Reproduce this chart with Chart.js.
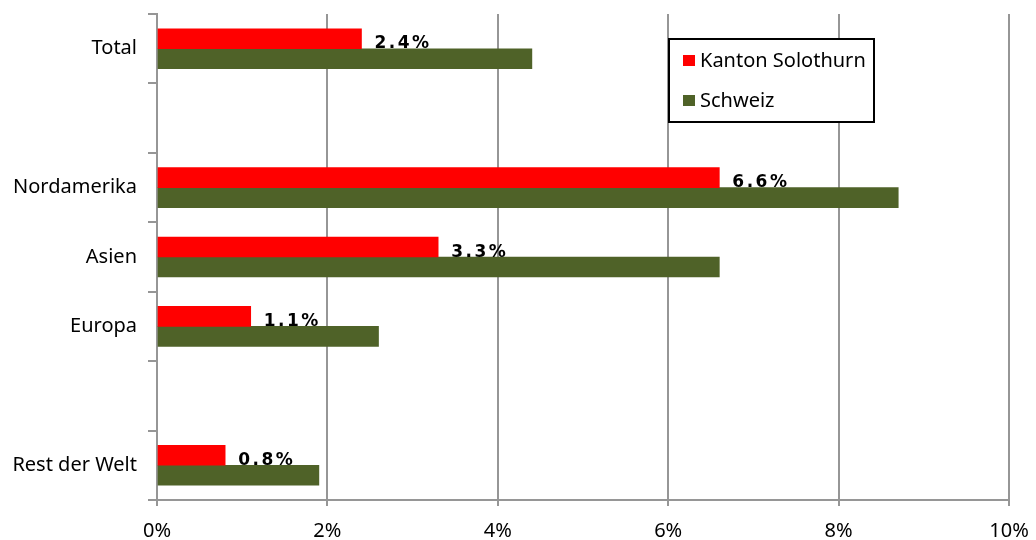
<!DOCTYPE html>
<html>
<head>
<meta charset="utf-8">
<script src="https://cdn.jsdelivr.net/npm/chart.js@4"></script>
<style>
    body { margin: 0; background: #fff; }
    #wrap { width: 1036px; height: 540px; }
</style>
</head>
<body>
<div id="wrap"><canvas id="chart" width="1036" height="540"></canvas></div>
<script>
// data (percent)
const categories = ['Total', '', 'Nordamerika', 'Asien', 'Europa', '', 'Rest der Welt'];
const solothurn = [2.4, null, 6.6, 3.3, 1.1, null, 0.8];
const schweiz = [4.4, null, 8.7, 6.6, 2.6, null, 1.9];
const xTicks = [0, 2, 4, 6, 8, 10];
const seriesNames = ['Kanton Solothurn', 'Schweiz'];

const RED = '#FF0000';
const GREEN = '#4F6228';
const GRID = '#969696';
const FONT = '"Noto Sans", "DejaVu Sans", sans-serif';
const LABEL_FONT = '"DejaVu Sans", Verdana, sans-serif';

// value labels next to the red bars
const valueLabels = {
    id: 'valueLabels',
    afterDatasetsDraw(chart) {
        const ctx = chart.ctx;
        const meta = chart.getDatasetMeta(0);
        ctx.save();
        ctx.font = 'bold 17px ' + LABEL_FONT;
        ctx.fillStyle = '#000';
        ctx.textAlign = 'left';
        ctx.textBaseline = 'alphabetic';
        ctx.letterSpacing = '2.5px';
        meta.data.forEach((bar, i) => {
            const v = solothurn[i];
            if (v === null) return;
            ctx.fillText(v.toFixed(1) + '%', bar.x + 13, bar.y + bar.height / 2 - 0.5);
        });
        ctx.restore();
    },
};

// boxed legend sitting inside the plot
const boxLegend = {
    id: 'boxLegend',
    afterDraw(chart) {
        const ctx = chart.ctx;
        const x = 669, y = 39, w = 205, h = 83;
        const colors = [RED, GREEN];
        ctx.save();
        ctx.fillStyle = '#fff';
        ctx.fillRect(x, y, w, h);
        ctx.strokeStyle = '#000';
        ctx.lineWidth = 2;
        ctx.strokeRect(x, y, w, h);
        ctx.font = '20px ' + FONT;
        ctx.textBaseline = 'middle';
        seriesNames.forEach((name, i) => {
            const cy = y + 22 + i * 40;
            ctx.fillStyle = colors[i];
            ctx.fillRect(x + 14, cy - 6, 12, 11);
            ctx.fillStyle = '#000';
            ctx.fillText(name, x + 31, cy);
        });
        ctx.restore();
    },
};

const ctx = document.getElementById('chart').getContext('2d');
new Chart(ctx, {
    type: 'bar',
    data: {
        labels: categories,
        datasets: [
            {
                label: seriesNames[0],
                backgroundColor: RED,
                data: solothurn,
                barThickness: 20,
            },
            {
                label: seriesNames[1],
                backgroundColor: GREEN,
                data: schweiz,
                barThickness: 20,
            },
        ],
    },
    options: {
        indexAxis: 'y',
        responsive: false,
        animation: false,
        layout: {
            padding: { top: 14, right: 27, left: 0, bottom: 0 },
        },
        scales: {
            x: {
                min: 0,
                max: 10,
                afterBuildTicks: (scale) => {
                    scale.ticks = xTicks.map((v) => ({ value: v }));
                },
                afterFit: (scale) => {
                    scale.height = 40;
                    scale.paddingLeft = 0;
                    scale.paddingRight = 0;
                },
                ticks: {
                    color: '#000',
                    font: { family: FONT, size: 20 },
                    padding: 13,
                    maxRotation: 0,
                    callback: (v) => v + '%',
                },
                grid: {
                    color: GRID,
                    lineWidth: 2,
                    tickLength: 6,
                },
                border: { color: GRID, width: 2 },
            },
            y: {
                afterFit: (scale) => {
                    scale.width = 157;
                    scale.paddingTop = 0;
                    scale.paddingBottom = 0;
                },
                ticks: {
                    color: '#000',
                    font: { family: FONT, size: 20 },
                    padding: 11,
                },
                grid: {
                    offset: true,
                    drawOnChartArea: false,
                    color: GRID,
                    lineWidth: 2,
                    tickLength: 9,
                },
                border: { color: GRID, width: 2 },
            },
        },
        plugins: {
            legend: { display: false },
            tooltip: { enabled: false },
        },
    },
    plugins: [valueLabels, boxLegend],
});
</script>
</body>
</html>
